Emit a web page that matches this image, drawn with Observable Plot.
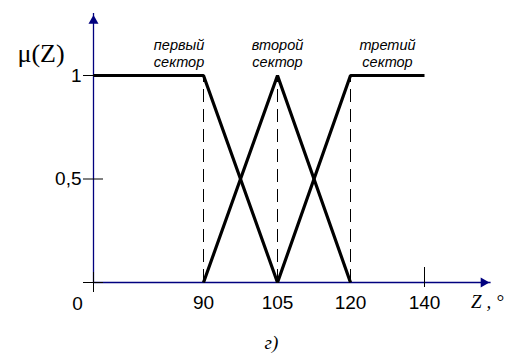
<!DOCTYPE html>
<html>
<head>
<meta charset="utf-8">
<script src="https://cdn.jsdelivr.net/npm/d3@7"></script>
<script src="https://cdn.jsdelivr.net/npm/@observablehq/plot@0.6"></script>
<style>
  html, body { margin: 0; padding: 0; background: #fff; }
  #chart { width: 510px; height: 358px; overflow: hidden; }
  svg { display: block; }
</style>
</head>
<body>
<div id="chart"></div>
<script>
// Membership functions μ(Z) for the three sectors
const firstZ = [0, 90, 105];
const firstMu = [1, 1, 0];
const secondZ = [90, 105, 120];
const secondMu = [0, 1, 0];
const thirdZ = [105, 120, 140];
const thirdMu = [0, 1, 1];

// Breakpoints marked with dashed guides
const breakZ = [90, 105, 120];

// Axis ticks and labels
const xTicks = [90, 105, 120, 140];
const xTickLabels = ["90", "105", "120", "140"];
const yTicks = [0.5, 1];
const yTickLabels = ["0,5", "1"];

// Sector captions
const sectorNames = ["первый\nсектор", "второй\nсектор", "третий\nсектор"];
const sectorZ = [70, 105, 130];
const sectorMu = [1.11, 1.11, 1.11];

// Axis extents (arrow tips)
const zAxisEnd = 158;
const muAxisEnd = 1.3;

const toRows = (zs, mus) => zs.map((z, i) => ({z, mu: mus[i]}));
const series = [toRows(firstZ, firstMu), toRows(secondZ, secondMu), toRows(thirdZ, thirdMu)];

const axisColor = "#00007f";
const sans = "'Liberation Sans', Arial, sans-serif";
const serif = "'Liberation Serif', 'Times New Roman', serif";

const chart = Plot.plot({
  width: 510,
  height: 358,
  margin: 0,
  style: {background: "#fff", overflow: "hidden"},
  x: {type: "linear", domain: [0, 90, 105, 120, 140, 160], range: [93, 203, 277, 350, 424, 498], axis: null},
  y: {type: "linear", domain: [0, 1], range: [282, 75], axis: null},
  marks: [
    // axes
    Plot.ruleY([0], {x1: 0, x2: zAxisEnd, stroke: axisColor, strokeWidth: 1.3}),
    Plot.ruleX([0], {y1: 0, y2: muAxisEnd, stroke: axisColor, strokeWidth: 1.3}),
    Plot.dot([0], {x: 0, y: () => muAxisEnd, symbol: "triangle2", r: 4.8, dy: 7.5, fill: axisColor, stroke: "none"}),
    Plot.dot([0], {x: () => zAxisEnd, y: 0, symbol: "triangle2", r: 4.8, dx: -7.5, rotate: 90, fill: axisColor, stroke: "none"}),
    // dashed guides
    Plot.ruleX(breakZ, {y1: 0, y2: 1, stroke: "#000", strokeWidth: 1, strokeDasharray: "13,7"}),
    // tick marks
    Plot.ruleY([0, ...yTicks], {x1: 0, x2: 0, insetLeft: -10, insetRight: -10, stroke: "#000", strokeWidth: 1}),
    Plot.ruleX([0], {y1: 0, y2: 0, insetTop: -10, insetBottom: -10, stroke: "#000", strokeWidth: 1}),
    Plot.ruleX([140], {y1: 0, y2: 0, insetTop: -15, insetBottom: -5, stroke: "#000", strokeWidth: 1}),
    // membership functions
    ...series.map(rows => Plot.line(rows, {x: "z", y: "mu", stroke: "#000", strokeWidth: 3.2, strokeLinejoin: "miter", strokeLinecap: "butt"})),
    // tick labels
    Plot.text(xTicks, {x: d => d, y: 0, text: (d, i) => xTickLabels[i], dy: 20, fontSize: 19, fontFamily: sans, fill: "#000"}),
    Plot.text([0], {x: 0, y: 0, text: () => "0", dx: -16, dy: 21, fontSize: 19, fontFamily: sans, fill: "#000"}),
    Plot.text(yTicks, {x: 0, y: d => d, text: (d, i) => yTickLabels[i], dx: -12, textAnchor: "end", fontSize: 19, fontFamily: sans, fill: "#000"}),
    // sector captions
    Plot.text(sectorNames, {x: (d, i) => sectorZ[i], y: (d, i) => sectorMu[i], text: d => d, fontSize: 14.5, fontStyle: "italic", fontFamily: sans, lineHeight: 1.17, fill: "#000"}),
    // axis titles
    Plot.text(["μ(Z)"], {x: 0, y: () => muAxisEnd, text: d => d, dx: -76, dy: 49, textAnchor: "start", lineAnchor: "bottom", fontSize: 26, fontFamily: serif, fill: "#000"}),
    Plot.text(["Z , °"], {x: () => zAxisEnd, y: 0, text: d => d, dx: -20, dy: 19, textAnchor: "start", fontSize: 19, fontStyle: "italic", fontFamily: serif, fill: "#000"}),
    Plot.text(["г)"], {x: 105, y: 0, text: d => d, dx: -13, dy: 60, textAnchor: "start", fontSize: 19, fontStyle: "italic", fontFamily: serif, fill: "#000"})
  ]
});

document.getElementById("chart").appendChild(chart);
</script>
</body>
</html>
